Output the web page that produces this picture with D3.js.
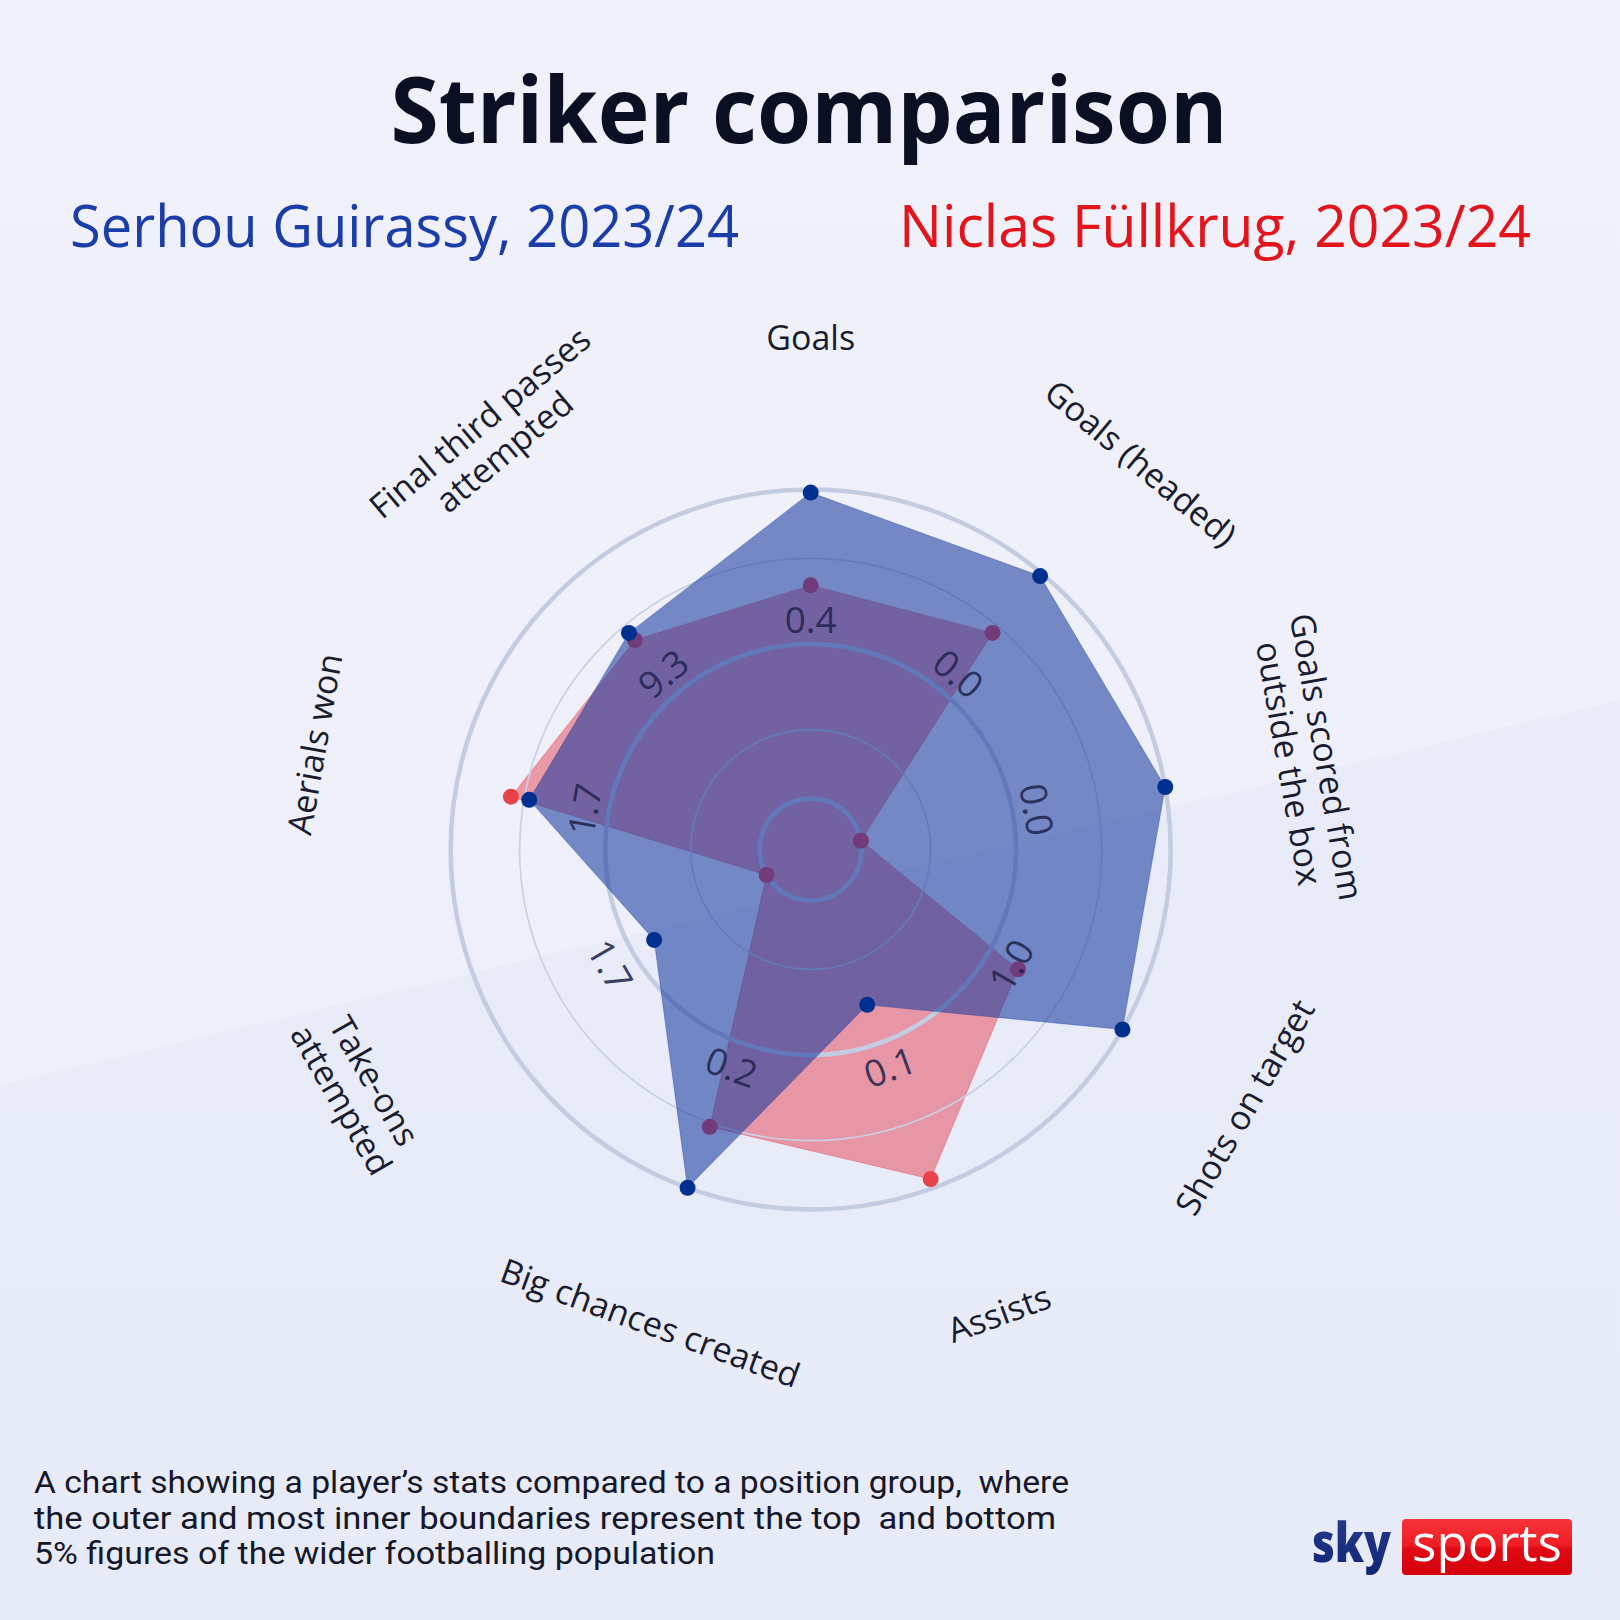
<!DOCTYPE html>
<html>
<head>
<meta charset="utf-8">
<script src="https://cdn.jsdelivr.net/npm/d3@7"></script>
<style>
  html, body { margin: 0; padding: 0; background: #eef0fa; }
  svg { display: block; }
  text { white-space: pre; }
</style>
</head>
<body>
<div id="chart"></div>
<script>
// ---------- DATA ----------
const categories = [
  "Goals", "Goals (headed)", "Goals scored from outside the box", "Shots on target",
  "Assists", "Big chances created", "Take-ons attempted", "Aerials won", "Final third passes attempted"
];
const categoryLines = [
  ["Goals"], ["Goals (headed)"], ["Goals scored from", "outside the box"], ["Shots on target"],
  ["Assists"], ["Big chances created"], ["Take-ons", "attempted"], ["Aerials won"],
  ["Final third passes", "attempted"]
];
// median (mid-ring) values printed on each axis
const ringLabels = ["0.4", "0.0", "0.0", "1.0", "0.1", "0.2", "1.7", "1.7", "9.3"];
// percentile position between bottom 5% (0) and top 5% (1)
const guirassy = [0.99, 0.99, 1.0, 1.0, 0.37, 1.0, 0.42, 0.76, 0.75];
const fullkrug = [0.69, 0.75, 0.0, 0.61, 0.97, 0.79, 0.0, 0.82, 0.72];
const ringLevels = [0, 0.223, 0.5, 0.777, 1];
const ringThick = [true, false, true, false, true];

const titleText = "Striker comparison";
const playerA = "Serhou Guirassy, 2023/24";
const playerB = "Niclas Füllkrug, 2023/24";
const footnote = [
  "A chart showing a player’s stats compared to a position group,  where",
  "the outer and most inner boundaries represent the top  and bottom",
  "5% figures of the wider footballing population"
];

// ---------- LAYOUT ----------
const W = 1620, H = 1620;
const cx = 810.7, cy = 849.5;
// label placement tweaks (layout only)
const labelRadius = [513, 509, 506, 504, 500, 499, 512, 508, 522];
const labelAngleNudge = [0, 0.5, -0.2, 0.7, -2.1, -1.3, 2, 2, 2.3];

const svg = d3.select("#chart").append("svg").attr("width", W).attr("height", H);
const defs = svg.append("defs");

const bg = defs.append("linearGradient").attr("id", "bg").attr("x1", 0).attr("y1", 0).attr("x2", 0).attr("y2", 1);
bg.append("stop").attr("offset", "0%").attr("stop-color", "#f0f1fa");
bg.append("stop").attr("offset", "100%").attr("stop-color", "#eceefa");
svg.append("rect").attr("width", W).attr("height", H).attr("fill", "url(#bg)");
// subtle diagonal shading, lower-left
svg.append("path").attr("d", "M0,1085 L1620,700 L1620,1620 L0,1620 Z").attr("fill", "#e3e6f7").attr("opacity", 0.45);

// ---------- SCALES ----------
const angle = d3.scaleLinear().domain([0, categories.length]).range([0, 2 * Math.PI]);
const r = d3.scaleLinear().domain([0, 1]).range([51, 360]);
const px = (i, v) => r(v) * Math.sin(angle(i));
const py = (i, v) => -r(v) * Math.cos(angle(i));

const g = svg.append("g").attr("transform", `translate(${cx},${cy})`);
const radial = d3.lineRadial().angle((d, i) => angle(i)).radius(d => r(d)).curve(d3.curveLinearClosed);

// Füllkrug polygon (below)
g.append("path").datum(fullkrug).attr("d", radial)
  .attr("fill", "rgb(230,40,60)").attr("fill-opacity", 0.44)
  .attr("stroke", "rgb(230,40,60)").attr("stroke-opacity", 0.3).attr("stroke-width", 1);

// rings
g.selectAll("circle.ring").data(ringLevels).join("circle").attr("class", "ring")
  .attr("r", d => r(d)).attr("fill", "none")
  .attr("stroke", (d, i) => ringThick[i] ? "#c3cce1" : "#c9d0e3")
  .attr("stroke-width", (d, i) => ringThick[i] ? 4.5 : 1.6);

// Füllkrug dots
g.selectAll("circle.fk").data(fullkrug).join("circle").attr("class", "fk")
  .attr("cx", (d, i) => px(i, d)).attr("cy", (d, i) => py(i, d)).attr("r", 8)
  .attr("fill", "#e8434b");

// Guirassy polygon (above)
g.append("path").datum(guirassy).attr("d", radial)
  .attr("fill", "rgb(20,56,157)").attr("fill-opacity", 0.56)
  .attr("stroke", "rgb(20,56,157)").attr("stroke-opacity", 0.35).attr("stroke-width", 1);

g.selectAll("circle.gu").data(guirassy).join("circle").attr("class", "gu")
  .attr("cx", (d, i) => px(i, d)).attr("cy", (d, i) => py(i, d)).attr("r", 8)
  .attr("fill", "#00308f");

const rot = i => {
  let deg = angle(i) * 180 / Math.PI;
  if (deg > 90 && deg < 270) deg -= 180;
  return deg;
};

// ring value labels
const valR = r(0.581);
g.selectAll("text.val").data(ringLabels).join("text").attr("class", "val")
  .attr("transform", (d, i) => `translate(${valR * Math.sin(angle(i))},${-valR * Math.cos(angle(i))}) rotate(${rot(i)})`)
  .attr("text-anchor", "middle").attr("dominant-baseline", "central")
  .attr("font-family", "'Open Sans', sans-serif").attr("font-size", 37)
  .attr("fill", "#23264e").attr("fill-opacity", 0.88)
  .text(d => d);

// category labels
const lh = 38;
const labA = i => angle(i) + labelAngleNudge[i] * Math.PI / 180;
const cat = g.selectAll("text.cat").data(categoryLines).join("text").attr("class", "cat")
  .attr("transform", (d, i) => `translate(${labelRadius[i] * Math.sin(labA(i))},${-labelRadius[i] * Math.cos(labA(i))}) rotate(${rot(i)})`)
  .attr("text-anchor", "middle").attr("dominant-baseline", "central")
  .attr("font-family", "'Open Sans', sans-serif").attr("font-size", 34)
  .attr("fill", "#1a1c2e");
cat.each(function (lines) {
  const t = d3.select(this);
  lines.forEach((ln, j) => {
    t.append("tspan").attr("x", 0).attr("y", (j - (lines.length - 1) / 2) * lh).text(ln);
  });
});

// ---------- TITLES ----------
svg.append("text").attr("x", 809).attr("y", 143).attr("text-anchor", "middle")
  .attr("font-family", "'Open Sans', sans-serif").attr("font-weight", 700).attr("font-size", 92)
  .attr("textLength", 837).attr("lengthAdjust", "spacingAndGlyphs")
  .attr("fill", "#0b0f24").text(titleText);

svg.append("text").attr("x", 70).attr("y", 247)
  .attr("font-family", "'Open Sans', sans-serif").attr("font-size", 58)
  .attr("textLength", 669).attr("lengthAdjust", "spacingAndGlyphs")
  .attr("fill", "#1b3da9").text(playerA);
svg.append("text").attr("x", 899).attr("y", 247)
  .attr("font-family", "'Open Sans', sans-serif").attr("font-size", 58)
  .attr("textLength", 632).attr("lengthAdjust", "spacingAndGlyphs")
  .attr("fill", "#e3141c").text(playerB);

// ---------- FOOTNOTE ----------
const footW = [1035, 1022, 681];
svg.selectAll("text.foot").data(footnote).join("text").attr("class", "foot")
  .attr("x", 34).attr("y", (d, i) => 1493 + i * 35.5)
  .attr("font-family", "Roboto, sans-serif").attr("font-size", 31)
  .attr("textLength", (d, i) => footW[i]).attr("lengthAdjust", "spacingAndGlyphs")
  .attr("fill", "#15172a").text(d => d);

// ---------- LOGO ----------
const rg = defs.append("linearGradient").attr("id", "red").attr("x1", 0).attr("y1", 0).attr("x2", 0).attr("y2", 1);
rg.append("stop").attr("offset", "0%").attr("stop-color", "#f8343a");
rg.append("stop").attr("offset", "48%").attr("stop-color", "#ee1c24");
rg.append("stop").attr("offset", "52%").attr("stop-color", "#e00a14");
rg.append("stop").attr("offset", "100%").attr("stop-color", "#d4000c");
const sg = defs.append("linearGradient").attr("id", "sky").attr("x1", 0).attr("y1", 0).attr("x2", 0).attr("y2", 1);
sg.append("stop").attr("offset", "0%").attr("stop-color", "#2a3f94");
sg.append("stop").attr("offset", "100%").attr("stop-color", "#0f2470");

svg.append("text").attr("x", 1312).attr("y", 1562)
  .attr("font-family", "'Open Sans', sans-serif").attr("font-weight", 800).attr("font-size", 54)
  .attr("textLength", 79).attr("lengthAdjust", "spacingAndGlyphs")
  .attr("fill", "url(#sky)").text("sky");
svg.append("rect").attr("x", 1402).attr("y", 1519).attr("width", 170).attr("height", 56).attr("rx", 4)
  .attr("fill", "url(#red)");
svg.append("text").attr("x", 1412).attr("y", 1561)
  .attr("font-family", "'Open Sans', sans-serif").attr("font-size", 52)
  .attr("textLength", 150).attr("lengthAdjust", "spacingAndGlyphs")
  .attr("fill", "#ffffff").text("sports");
</script>
</body>
</html>
